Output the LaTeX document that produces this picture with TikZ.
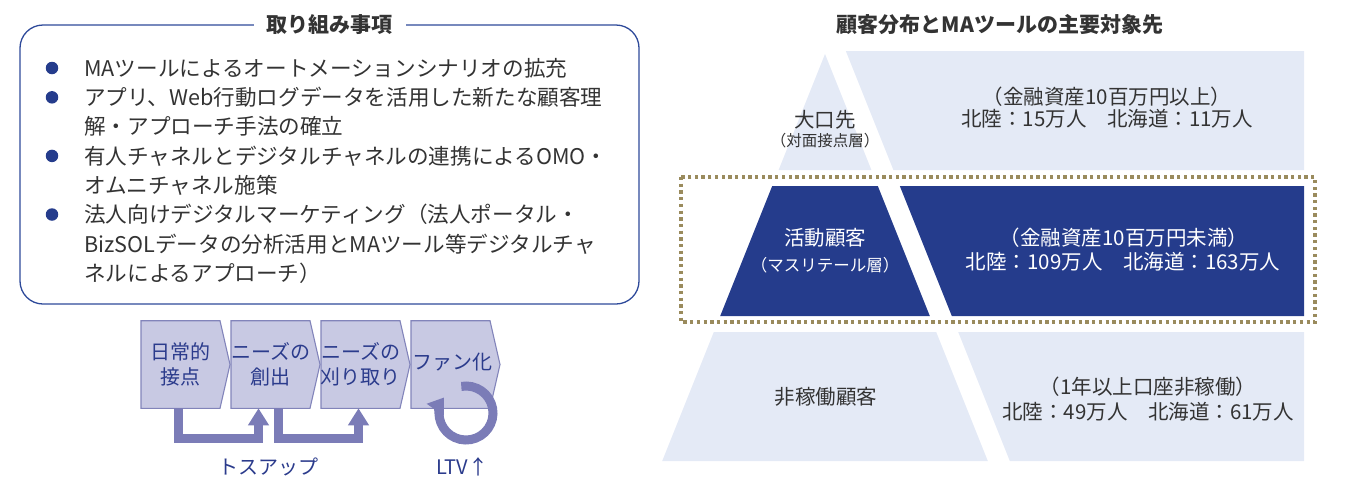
\documentclass[tikz,border=0pt]{standalone}
\usepackage{fontspec}
\setmainfont{Noto Sans CJK JP}
\usetikzlibrary{arrows.meta,calc,backgrounds}
\definecolor{boxblue}{HTML}{2E4A9A}
\definecolor{navy}{HTML}{253C8C}
\definecolor{txtgray}{HTML}{333333}
\definecolor{chevfill}{HTML}{C8C9E3}
\definecolor{chevline}{HTML}{8284BA}
\definecolor{chevtext}{HTML}{2B3B8C}
\definecolor{arrowpurple}{HTML}{7B7CB7}
\definecolor{lightblue}{HTML}{E4EAF6}
\definecolor{olive}{HTML}{9A8B5D}
\newcommand\chevshape[1]{\filldraw[fill=chevfill,draw=chevline,line width=1.1] ($(#1.center)+(-39.5,-43.8)$) -- ++(79,0) -- ++(10,43.8) -- ++(-10,43.8) -- ++(-79,0) -- cycle;}
\begin{document}
\begin{tikzpicture}[x=1pt,y=-1pt,
  bl/.style={inner sep=0pt, text=txtgray, font=\fontsize{21.6}{21.6}\selectfont},
  pt/.style={inner sep=0pt, text=txtgray, font=\fontsize{20.5}{20.5}\selectfont},
  ps/.style={inner sep=0pt, text=txtgray, font=\fontsize{15.5}{15.5}\selectfont},
  chevtxt/.style={inner sep=0pt, text=chevtext, align=center, font=\fontsize{20}{25}\selectfont},
  lbl/.style={inner sep=0pt, text=chevtext, font=\fontsize{20}{20}\selectfont},
  dot/.style={circle, fill=navy, minimum size=12.5, inner sep=0pt},
  flow/.style={draw=arrowpurple, line width=9, line join=miter, -{Triangle[width=20pt,length=17pt]}},
  ]
\useasboundingbox (0,0) rectangle (1347,480);

% ---------- left panel ----------
\node[draw=boxblue, line width=1.3, rounded corners=23, minimum width=619, minimum height=279, inner sep=0pt] (box) at (329.5,164.5) {};
\node[fill=white, inner xsep=13, inner ysep=3, text=txtgray, font=\fontsize{21}{21}\selectfont\bfseries] (t1) at (box.north) {取り組み事項};

\node[dot] (d1) at (52,68) {};
\node[dot] (d2) at (52,97.3) {};
\node[dot] (d3) at (52,155.9) {};
\node[dot] (d4) at (52,214.5) {};
\node[bl, anchor=west] (l1) at (84,68) {MAツールによるオートメーションシナリオの拡充};
\node[bl, anchor=west] (l2) at (84,97.3) {アプリ、Web行動ログデータを活用した新たな顧客理};
\node[bl, anchor=west] (l3) at (84,126.6) {解・アプローチ手法の確立};
\node[bl, anchor=west] (l4) at (84,155.9) {有人チャネルとデジタルチャネルの連携によるOMO・};
\node[bl, anchor=west] (l5) at (84,185.2) {オムニチャネル施策};
\node[bl, anchor=west] (l6) at (84,214.5) {法人向けデジタルマーケティング（法人ポータル・};
\node[bl, anchor=west] (l7) at (84,243.8) {BizSOLデータの分析活用とMAツール等デジタルチャ};
\node[bl, anchor=west] (l8) at (84,273.1) {ネルによるアプローチ）};

% chevrons
\node[chevtxt] (c1) at (180.5,364.5) {日常的\\接点};
\node[chevtxt] (c2) at (270.5,364.5) {ニーズの\\創出};
\node[chevtxt] (c3) at (360.5,364.5) {ニーズの\\刈り取り};
\node[chevtxt] (c4) at (452,362) {ファン化};
\coordinate (c4c) at (450.5,364.5);
\begin{scope}[on background layer]
\chevshape{c1}
\chevshape{c2}
\chevshape{c3}
\chevshape{c4c}
\end{scope}
\draw[flow] ($(c1.center)+(-2,43.8)$) -- ++(0,30) -| ($(c2.center)+(-12,43.8)$);
\draw[flow] ($(c2.center)+(8,43.8)$) -- ++(0,30) -| ($(c3.center)+(-2,43.8)$);
\draw[flow, -{Triangle[width=20pt,length=15pt]}] ($(c4c)+(15.5,48.5)$) ++(-100:27) arc[start angle=-100, end angle=215, radius=27];
\node[lbl] (ts) at (268,467) {トスアップ};
\node[lbl] (ltv) at (462.5,467) {LTV↑};

% ---------- right panel ----------
\node[inner sep=0pt, text=txtgray, font=\fontsize{21}{21}\selectfont\bfseries] (rt) at (1000,25) {顧客分布とMAツールの主要対象先};

\fill[lightblue] (825,54) -- (871.4,170) -- (778.6,170) -- cycle;
\fill[lightblue] (845.8,51) -- (1304,51) -- (1304,170) -- (893.4,170) -- cycle;
\fill[navy] (772.2,186) -- (877.8,186) -- (929.8,316) -- (720.2,316) -- cycle;
\fill[navy] (899.8,186) -- (1304,186) -- (1304,316) -- (951.8,316) -- cycle;
\fill[lightblue] (713.8,332) -- (936.2,332) -- (987.8,461) -- (662.2,461) -- cycle;
\fill[lightblue] (958.2,332) -- (1304,332) -- (1304,461) -- (1009.8,461) -- cycle;
\draw[olive, line width=3.5, dash pattern=on 3.3 off 3.4] (681,177) rectangle (1315,322);

\node[pt] (p1a) at (825,120) {大口先};
\node[ps] (p1b) at (825,141) {（対面接点層）};
\node[pt] (q1a) at (1107,97) {（金融資産10百万円以上）};
\node[pt] (q1b) at (1107,119) {北陸：15万人　北海道：11万人};

\node[pt, text=white] (p2a) at (825,238) {活動顧客};
\node[ps, text=white, font=\fontsize{16.5}{16.5}\selectfont] (p2b) at (825,265) {（マスリテール層）};
\node[pt, text=white] (q2a) at (1124,238) {（金融資産10百万円未満）};
\node[pt, text=white] (q2b) at (1123,262) {北陸：109万人　北海道：163万人};

\node[pt] (p3) at (826,397) {非稼働顧客};
\node[pt] (q3a) at (1148,387) {（1年以上口座非稼働）};
\node[pt] (q3b) at (1148,412) {北陸：49万人　北海道：61万人};
\end{tikzpicture}
\end{document}
